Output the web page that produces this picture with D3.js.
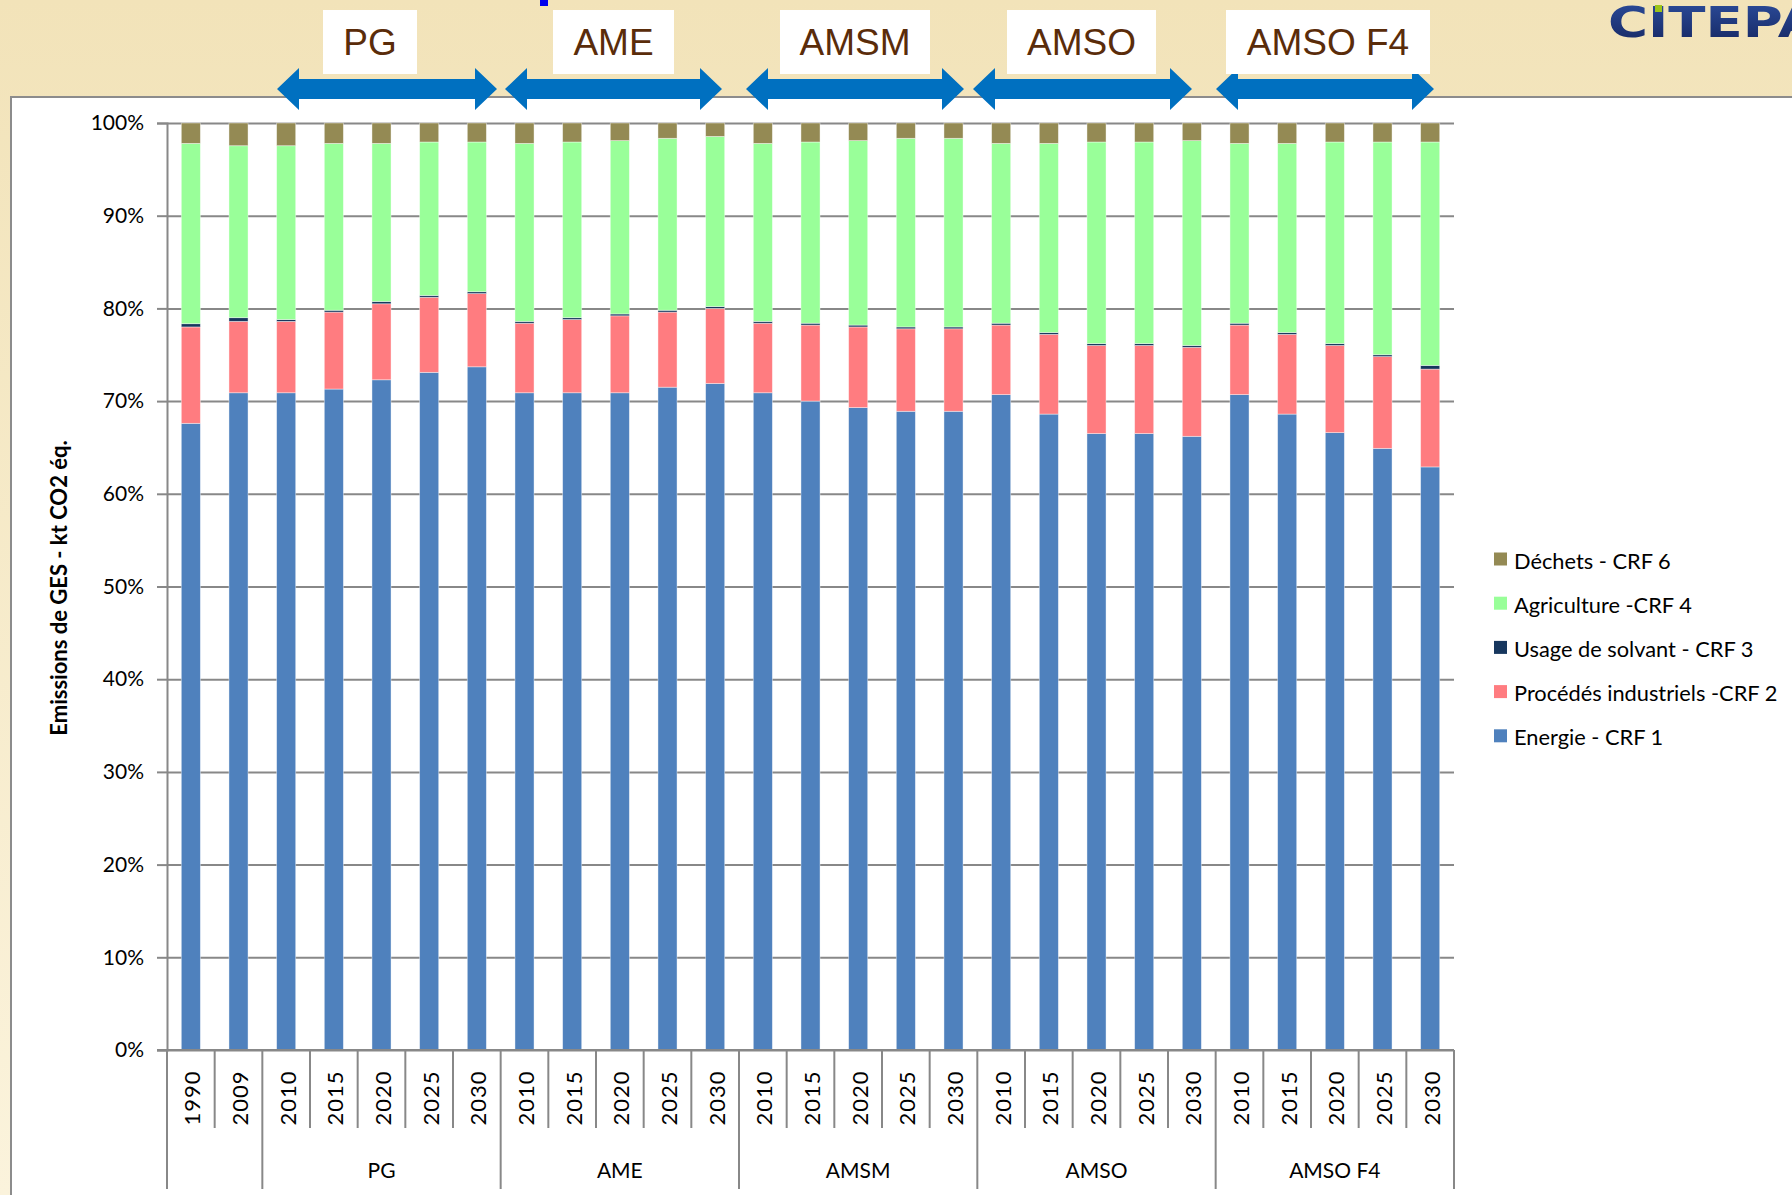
<!DOCTYPE html>
<html>
<head>
<meta charset="utf-8">
<script src="https://cdn.jsdelivr.net/npm/d3@7"></script>
<style>
  body { margin: 0; overflow: hidden; }
  text { font-family: Lato, "Open Sans", sans-serif; fill: #000; }
</style>
</head>
<body>
<svg id="chart" width="1792" height="1195"></svg>
<script>
// categories
var years = ["1990","2009",
             "2010","2015","2020","2025","2030",
             "2010","2015","2020","2025","2030",
             "2010","2015","2020","2025","2030",
             "2010","2015","2020","2025","2030",
             "2010","2015","2020","2025","2030"];
var groups = ["", "PG", "AME", "AMSM", "AMSO", "AMSO F4"];
var groupSizes = [2, 5, 5, 5, 5, 5];

// series (share in %)
var energie     = [67.6,70.9, 70.9,71.3,72.3,73.1,73.7, 70.9,70.9,70.9,71.5,71.9, 70.9,70.0,69.3,68.9,68.9, 70.7,68.6,66.5,66.5,66.2, 70.7,68.6,66.6,64.9,62.9];
var procedes    = [10.4,7.7, 7.7,8.3,8.2,8.1,7.9, 7.5,7.9,8.3,8.1,8.1, 7.5,8.2,8.7,8.9,8.9, 7.5,8.6,9.5,9.5,9.6, 7.5,8.6,9.4,9.9,10.55];
var solvant     = [0.35,0.4, 0.2,0.2,0.25,0.2,0.2, 0.2,0.2,0.2,0.2,0.2, 0.2,0.2,0.2,0.2,0.2, 0.2,0.2,0.2,0.2,0.2, 0.2,0.2,0.2,0.2,0.4];
var agriculture = [19.45,18.55, 18.75,18.0,17.05,16.55,16.15, 19.2,18.95,18.7,18.55,18.35, 19.2,19.55,19.9,20.35,20.35, 19.4,20.4,21.75,21.75,22.1, 19.4,20.4,21.75,22.95,24.1];
var dechets     = [2.2,2.45, 2.45,2.2,2.2,2.05,2.05, 2.2,2.05,1.9,1.65,1.45, 2.2,2.05,1.9,1.65,1.65, 2.2,2.2,2.05,2.05,1.9, 2.2,2.2,2.05,2.05,2.05];

var seriesKeys   = ["energie", "procedes", "solvant", "agriculture", "dechets"];
var seriesLabels = ["Energie - CRF 1", "Procédés industriels -CRF 2", "Usage de solvant - CRF 3", "Agriculture -CRF 4", "Déchets - CRF 6"];
var seriesColors = ["#4f81bd", "#ff7c80", "#17375e", "#99ff99", "#948a54"];
var yTicks = [0, 10, 20, 30, 40, 50, 60, 70, 80, 90, 100];

var yTitle = "Emissions de GES - kt CO2 éq.";

var svg = d3.select("#chart");

var plotLeft = 167, plotRight = 1454, plotTop = 123, plotBottom = 1050;

// background
var defs = svg.append("defs");
var grad = defs.append("linearGradient").attr("id", "bg").attr("x1", 0).attr("y1", 0).attr("x2", 0).attr("y2", 1);
grad.append("stop").attr("offset", "0%").attr("stop-color", "#f2e3b9");
grad.append("stop").attr("offset", "100%").attr("stop-color", "#fbf3dc");
var logoGrad = defs.append("linearGradient").attr("id", "logo").attr("x1", 0).attr("y1", 0).attr("x2", 0).attr("y2", 1);
logoGrad.append("stop").attr("offset", "0%").attr("stop-color", "#2d4e9e");
logoGrad.append("stop").attr("offset", "100%").attr("stop-color", "#152660");

svg.append("rect").attr("width", 1792).attr("height", 1195).attr("fill", "url(#bg)");
svg.append("rect").attr("x", 11).attr("y", 97).attr("width", 1800).attr("height", 1200)
   .attr("fill", "#fff").attr("stroke", "#8c8c8c").attr("stroke-width", 2);

// small blue mark at the top
svg.append("rect").attr("x", 540).attr("y", 0).attr("width", 8).attr("height", 6).attr("fill", "#0000ee");

// logo
svg.append("text").attr("x", 1608).attr("y", 37)
   .style("font-family", "'DejaVu Sans', sans-serif").style("font-weight", "bold").style("font-size", "43px")
   .style("fill", "url(#logo)")
   .attr("textLength", 212).attr("lengthAdjust", "spacingAndGlyphs")
   .text("CITEPA");
svg.append("rect").attr("x", 1655).attr("y", 5).attr("width", 7).attr("height", 7).attr("fill", "#9dc41a");

// scales
var idx = d3.range(years.length);
var x = d3.scaleBand().domain(idx).range([plotLeft, plotRight]);
var y = d3.scaleLinear().domain([0, 100]).range([plotBottom, plotTop]);

// grid + y axis
svg.append("g").attr("transform", "translate(" + plotLeft + ",0)")
   .call(d3.axisLeft(y).tickValues(yTicks).tickSize(-(plotRight - plotLeft)).tickFormat(""))
   .call(function(g) {
     g.select(".domain").remove();
     g.selectAll("line").attr("stroke", "#888").attr("stroke-width", 2);
   });

svg.append("g").attr("transform", "translate(" + plotLeft + ",0)")
   .call(d3.axisLeft(y).tickValues(yTicks).tickSize(10).tickPadding(13).tickFormat(function(d) { return d + "%"; }))
   .call(function(g) {
     g.select(".domain").attr("stroke", "#888").attr("stroke-width", 2);
     g.selectAll("line").attr("stroke", "#888").attr("stroke-width", 2);
     g.selectAll("text").style("font-family", "Lato").style("font-size", "21px").attr("fill", "#000");
   });

// bars
var rows = idx.map(function(i) {
  return { energie: energie[i], procedes: procedes[i], solvant: solvant[i], agriculture: agriculture[i], dechets: dechets[i] };
});
var stack = d3.stack().keys(seriesKeys)(rows);
var bw = x.bandwidth() * 0.4;

svg.append("g").selectAll("g")
   .data(stack).enter().append("g")
   .attr("fill", function(d, i) { return seriesColors[i]; })
   .selectAll("rect")
   .data(function(d) { return d; }).enter().append("rect")
   .attr("x", function(d, i) { return x(i) + (x.bandwidth() - bw) / 2; })
   .attr("width", bw)
   .attr("y", function(d) { return y(d[1]); })
   .attr("height", function(d) { return y(d[0]) - y(d[1]); })
   .attr("stroke", "rgba(255,255,255,0.5)").attr("stroke-width", 0.8);

// x axis: baseline, separators, labels
svg.append("line").attr("x1", plotLeft - 10).attr("x2", plotRight).attr("y1", plotBottom).attr("y2", plotBottom)
   .attr("stroke", "#888").attr("stroke-width", 2);

var groupStarts = [];
var acc = 0;
groupSizes.forEach(function(n) { groupStarts.push(acc); acc += n; });

var edges = d3.range(years.length + 1);
svg.append("g").selectAll("line").data(edges).enter().append("line")
   .attr("x1", function(i) { return i < years.length ? x(i) : plotRight; })
   .attr("x2", function(i) { return i < years.length ? x(i) : plotRight; })
   .attr("y1", plotBottom)
   .attr("y2", function(i) { return (groupStarts.indexOf(i) >= 0 || i === years.length) ? 1189 : 1128; })
   .attr("stroke", "#888").attr("stroke-width", 2);

svg.append("g").selectAll("text").data(years).enter().append("text")
   .attr("transform", function(d, i) { return "translate(" + (x(i) + x.bandwidth() / 2 + 1) + ",1098) rotate(-90)"; })
   .attr("text-anchor", "middle").attr("dominant-baseline", "central")
   .style("font-size", "22px").attr("letter-spacing", 1)
   .text(function(d) { return d; });

svg.append("g").selectAll("text").data(groups).enter().append("text")
   .attr("x", function(d, i) { return x(groupStarts[i]) + groupSizes[i] * x.step() / 2; })
   .attr("y", 1169).attr("text-anchor", "middle").attr("dominant-baseline", "central")
   .style("font-size", "21px")
   .text(function(d) { return d; });

// y title
svg.append("text").attr("transform", "translate(58,588) rotate(-90)")
   .attr("text-anchor", "middle").attr("dominant-baseline", "central")
   .style("font-size", "22px").style("font-weight", "bold")
   .text(yTitle);

// legend
var legend = svg.append("g").selectAll("g").data(seriesLabels.slice().reverse()).enter().append("g")
   .attr("transform", function(d, i) { return "translate(1494," + (559 + i * 44.2) + ")"; });
legend.append("rect").attr("x", 0).attr("y", -6.5).attr("width", 13).attr("height", 13)
   .attr("fill", function(d, i) { return seriesColors[seriesColors.length - 1 - i]; });
legend.append("text").attr("x", 20).attr("y", 1).attr("dominant-baseline", "central")
   .style("font-size", "21.8px").text(function(d) { return d; });

// scenario headers (decoration above the chart)
var headerBoxes = [[323, 417], [553, 674], [780, 930], [1007, 1156], [1226, 1430]];
var headerArrows = [[277, 497], [505, 722], [746, 964], [973, 1192], [1216, 1434]];
var head = 22;

svg.append("g").selectAll("path").data(headerArrows).enter().append("path")
   .attr("d", function(a) {
     var x0 = a[0], x1 = a[1];
     return "M" + x0 + ",89 L" + (x0 + head) + ",68 L" + (x0 + head) + ",79 L" + (x1 - head) + ",79 L" +
            (x1 - head) + ",68 L" + x1 + ",89 L" + (x1 - head) + ",110 L" + (x1 - head) + ",99 L" +
            (x0 + head) + ",99 L" + (x0 + head) + ",110 Z";
   })
   .attr("fill", "#0070c0");

var hb = svg.append("g").selectAll("g").data(groups.slice(1)).enter().append("g");
hb.append("rect")
  .attr("x", function(d, i) { return headerBoxes[i][0]; })
  .attr("width", function(d, i) { return headerBoxes[i][1] - headerBoxes[i][0]; })
  .attr("y", 10).attr("height", 64).attr("fill", "#fff");
hb.append("text")
  .attr("x", function(d, i) { return (headerBoxes[i][0] + headerBoxes[i][1]) / 2; })
  .attr("y", 55).attr("text-anchor", "middle")
  .style("font-family", "'Liberation Sans', Arial, sans-serif").style("font-size", "37px")
  .style("fill", "#5a2c0a")
  .text(function(d) { return d; });
</script>
</body>
</html>
